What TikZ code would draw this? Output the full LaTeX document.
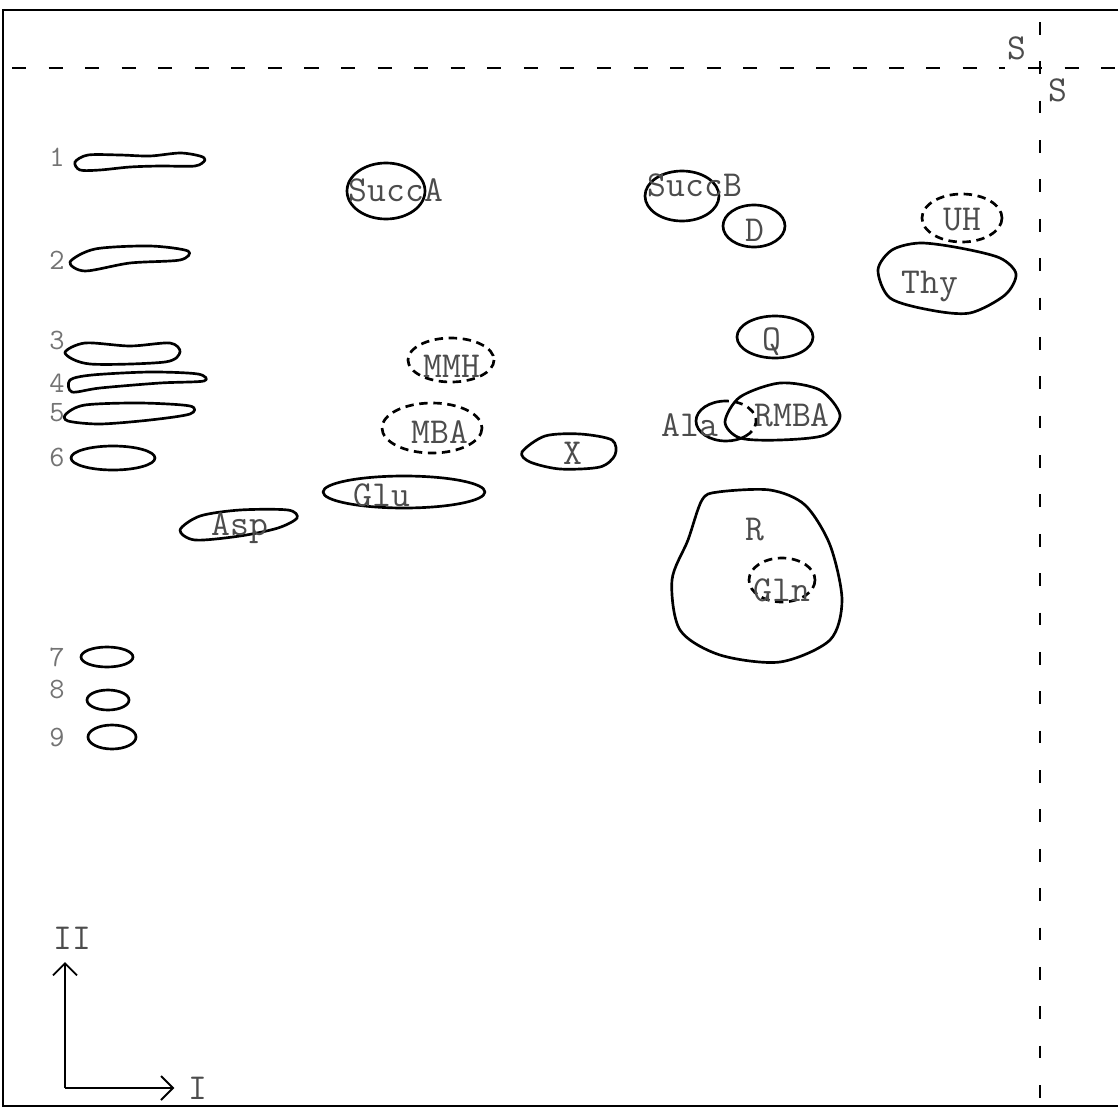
\documentclass[tikz,border=0pt]{standalone}
\usepackage{tikz}
\usetikzlibrary{arrows.meta,calc}

\begin{document}
\begin{tikzpicture}[x=0.025cm,y=-0.025cm,
   spot/.style={line width=1.9pt,line join=round},
   faint/.style={spot,dash pattern=on 6pt off 4pt},
   lbl/.style={font=\fontsize{26}{26}\ttfamily,text=black!70,inner sep=0pt},
   num/.style={font=\fontsize{21}{21}\ttfamily,text=black!55,inner sep=0pt},
   front/.style={dash pattern=on 10pt off 16pt,line width=1.6pt},
   dirarrow/.style={line width=1.3pt,-{Straight Barb[length=3mm,width=6mm]}}]
  \useasboundingbox (0,0) rectangle (1120,1112);
  % sheet edges
  \draw[line width=1.4pt] (1118,10) -- (3,10) -- (3,1106) -- (1118,1106);
  % solvent fronts
  \draw[front] (12,68) -- (1005,68);
  \draw[front] (1028,68) -- (1120,68);
  \draw[front,dash pattern=on 9pt off 19pt] (1040,22) -- (1040,1106);
  \node[lbl] (s1) at (1017,48) {S};
  \node[lbl] (s2) at (1058,90) {S};

  % numbered spots
  \draw[spot] plot[smooth cycle] coordinates {(75,162) (88,155) (120,155) (150,156) (180,153) (200,156) (205,160) (195,166) (160,166) (130,167) (100,170) (80,170)};
  \draw[spot] plot[smooth cycle] coordinates {(70,262) (95,249) (150,246) (188,251) (180,260) (130,263) (85,271)};
  \draw[spot] plot[smooth cycle] coordinates {(65,353) (85,343) (130,346) (170,343) (180,352) (165,362) (90,364)};
  \draw[spot] plot[smooth cycle] coordinates {(70,380) (92,375) (150,372) (198,374) (204,381) (160,383) (100,388) (72,392)};
  \draw[spot] plot[smooth cycle] coordinates {(66,414) (85,405) (140,403) (190,406) (190,414) (150,420) (100,424) (68,421)};
  \draw[spot] (113,458) ellipse (42 and 12);
  \draw[spot] (107,657) ellipse (26 and 10);
  \draw[spot] (108,700) ellipse (21 and 10);
  \draw[spot] (112,737) ellipse (24 and 12);
  \foreach \n/\y in {1/157,2/260,3/340,4/383,5/413,6/457,7/657,8/689,9/737}
    \node[num] (n\n) at (57,\y) {\n};

  % named spots
  \draw[spot] plot[smooth cycle] coordinates {(180,530) (200,516) (240,510) (288,510) (297,518) (278,528) (240,536) (195,540)};
  \node[lbl] (asp) at (240,528) {Asp};
  \draw[spot] (386,191) ellipse (39 and 28);
  \node[lbl] (succa) at (396,190) {SuccA};
  \draw[spot] (682,196) ellipse (37 and 25);
  \node[lbl] (succb) at (695,185) {SuccB};
  \draw[spot] (754,226) ellipse (31 and 21);
  \node[lbl] (d) at (755,230) {D};
  \draw[faint] (962,218) ellipse (40 and 24);
  \node[lbl] (uh) at (962,220) {UH};
  \draw[spot] plot[smooth cycle] coordinates {(878,270) (892,250) (920,243) (960,248) (1000,258) (1016,274) (1005,295) (970,313) (930,310) (890,298)};
  \node[lbl] (thy) at (930,286) {Thy};
  \draw[spot] (775,337) ellipse (38 and 21);
  \node[lbl] (q) at (772,342) {Q};
  \draw[faint] (451,360) ellipse (43 and 22);
  \node[lbl] (mmh) at (452,366) {MMH};
  \draw[faint] (432,428) ellipse (50 and 25);
  \node[lbl] (mba) at (440,432) {MBA};
  \draw[spot] plot[smooth cycle] coordinates {(522,452) (545,436) (580,434) (612,440) (615,455) (600,467) (560,469) (530,462)};
  \node[lbl] (x) at (573,453) {X};
  \draw[spot] (404,492) ellipse (81 and 16);
  \node[lbl] (glu) at (382,495) {Glu};
  \draw[spot] plot[smooth cycle] coordinates {(725,422) (740,397) (780,383) (820,390) (840,415) (825,435) (780,440) (740,438)};
  \node[lbl] (rmba) at (792,415) {RMBA};
  \draw[spot] (726,421) ++(270:30 and 20) arc (270:50:30 and 20);
  \draw[faint] (726,421) ++(50:30 and 20) arc (50:-90:30 and 20);
  \node[lbl] (ala) at (690,425) {Ala};
  \draw[spot] plot[smooth cycle] coordinates {(702,500) (718,492) (770,490) (805,505) (830,545) (842,600) (830,640) (780,662) (720,655) (680,630) (672,580) (688,540)};
  \node[lbl] (r) at (755,530) {R};
  \draw[faint] (782,580) ellipse (33 and 22);
  \node[lbl] (gln) at (782,590) {Gln};

  % run directions
  \coordinate (o) at (65,1088);
  \node[lbl] (dirii) at (72,938) {II};
  \node[lbl] (diri) at (198,1088) {I};
  \draw[dirarrow] (o) -- (65,962);
  \draw[dirarrow] (o) -- ($(diri.west)+(-14,0)$);
\end{tikzpicture}
\end{document}
